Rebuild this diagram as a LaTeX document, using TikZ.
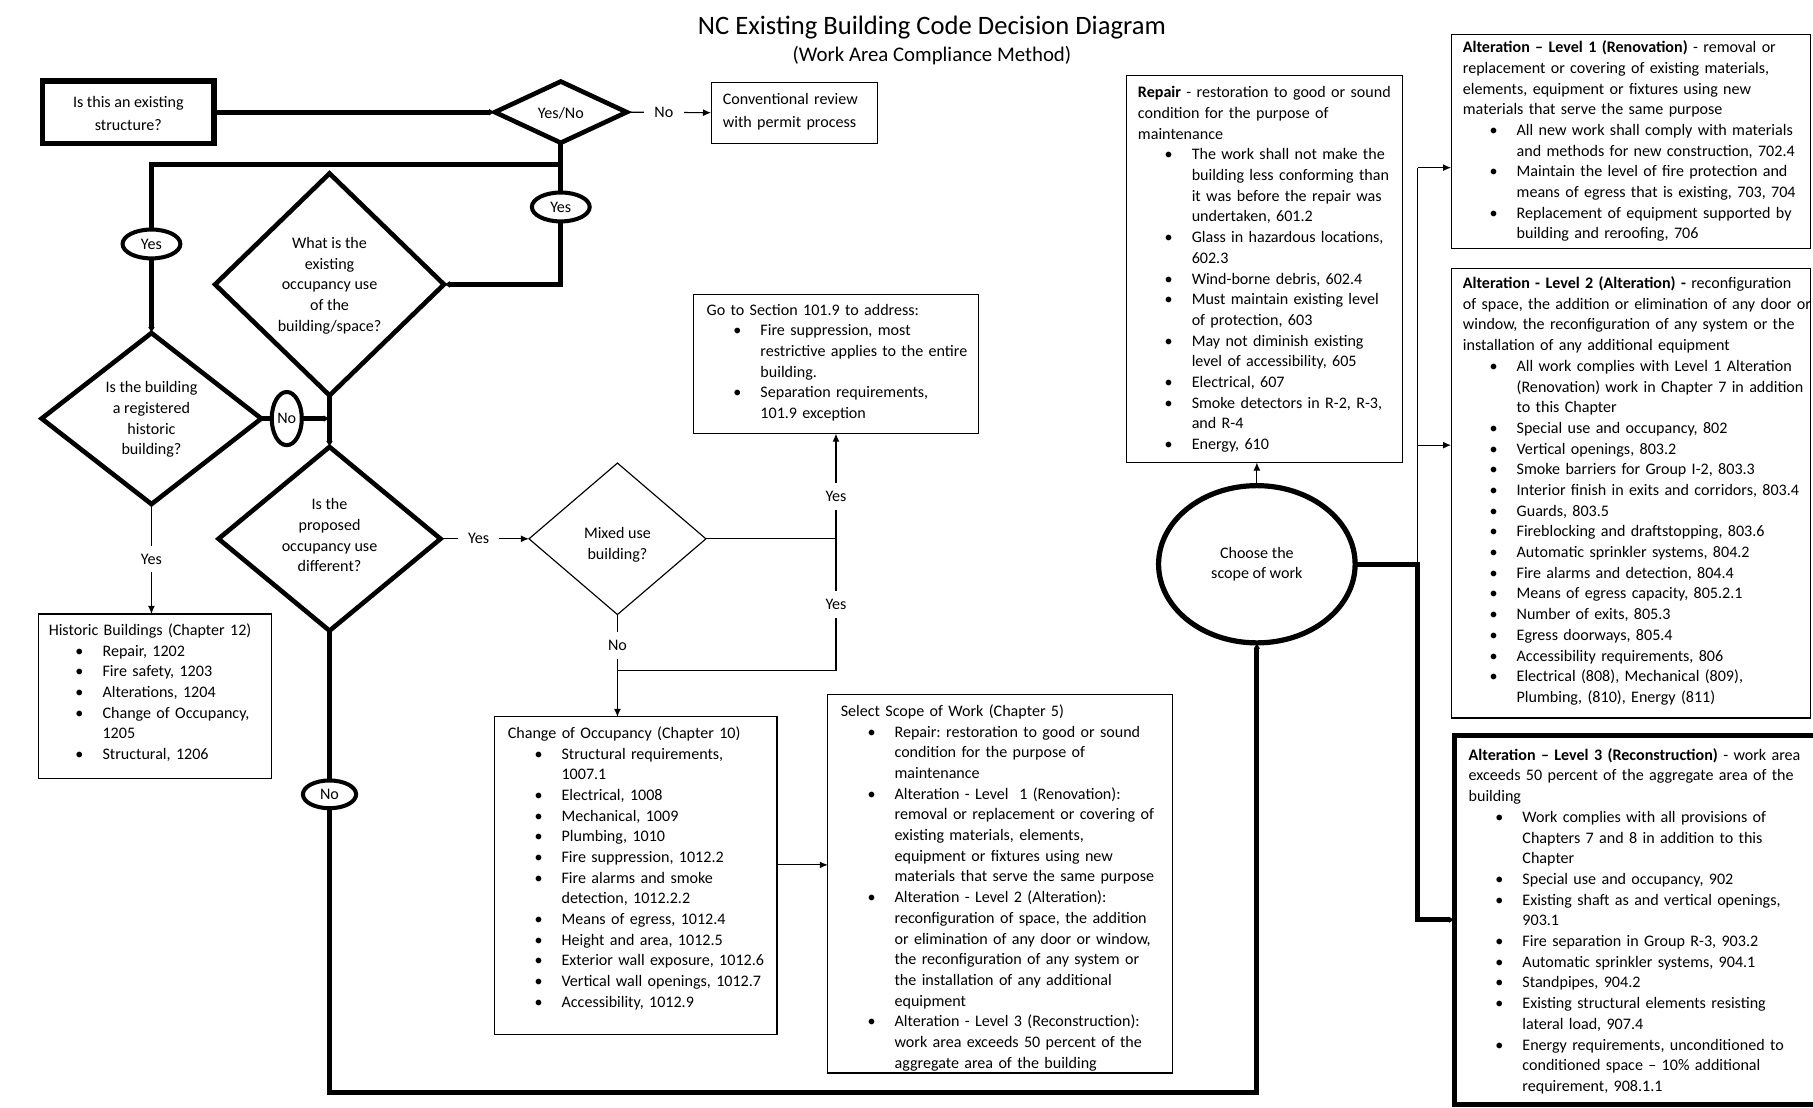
\documentclass[tikz,border=0pt]{standalone}
\usepackage{fontspec}
\setmainfont{Carlito}
\usetikzlibrary{shapes.geometric,arrows.meta}
\frenchspacing
\newcommand\nf{\fontsize{13.9}{17.9}\selectfont\setlength\parskip{0pt}\frenchspacing}
\newenvironment{blist}{\begin{list}{\textbullet}{\setlength{\leftmargin}{46.5pt}\setlength{\labelsep}{16.5pt}\setlength{\labelwidth}{30pt}\setlength{\itemsep}{0pt}\setlength{\parsep}{0pt}\setlength{\topsep}{0pt}\setlength{\partopsep}{0pt}\setlength{\itemindent}{0pt}\setlength{\listparindent}{0pt}\setlength{\rightmargin}{0pt}}}{\end{list}}
\tikzset{
 thk/.style={line width=4.5pt},
 thn/.style={line width=1pt},
 tipk/.style={-{Latex[length=5pt,width=6pt]}},
 tipn/.style={-{Latex[length=7pt,width=6pt]}},
 boxn/.style={draw, line width=1pt, rectangle, inner sep=0pt, outer sep=0pt, anchor=north west},
 tbox/.style={draw, line width=4.5pt, rectangle, inner sep=0pt, outer sep=0pt, anchor=north west},
 dia/.style={draw, diamond, line width=4pt, inner sep=0pt, outer sep=0pt},
 tdia/.style={draw, diamond, line width=1pt, inner sep=0pt, outer sep=0pt},
 txt/.style={inner sep=0pt, anchor=north west, align=left, font=\nf},
 ctxt/.style={inner sep=0pt, align=center, font=\nf},
 lbl/.style={fill=white, inner xsep=9pt, inner ysep=7pt, font=\nf},
 oval/.style={draw, ellipse, line width=3.5pt, fill=white, inner sep=0pt, outer sep=0pt, font=\nf},
}
\begin{document}
\begin{tikzpicture}[x=1pt,y=-1pt]
\fill[white] (0,0) rectangle (1568,958);
\useasboundingbox (0,0) rectangle (1568,958);

\node[font=\fontsize{23}{28}\selectfont] (title) at (806,24) {NC Existing Building Code Decision Diagram};
\node[font=\fontsize{18}{22}\selectfont] (subtitle) at (806,48) {(Work Area Compliance Method)};

% top row
\node[tbox, minimum width=148pt, minimum height=54pt] (exist) at (37,70) {};
\node[ctxt] (existT) at (111,98) {Is this an existing\\[2pt] structure?};
\node[dia, minimum width=114pt, minimum height=53pt] (yn) at (485,97) {};
\node[ctxt] (ynT) at (485,98) {Yes/No};
\node[boxn, minimum width=144pt, minimum height=53pt] (conv) at (615,71) {};
\node[txt, anchor=west, text width=135pt] (convT) at (625,97) {Conventional review\\[2pt] with permit process};

% diamonds
\node[dia, minimum width=198pt, minimum height=192pt] (occ) at (285,246) {};
\node[ctxt] (occT) at (285,247) {What is the\\ existing\\ occupancy use\\ of the\\ building/space?};
\node[dia, minimum width=190pt, minimum height=148pt] (hist) at (131,362) {};
\node[ctxt] (histT) at (131,363) {Is the building\\ a registered\\ historic\\ building?};
\node[dia, minimum width=192pt, minimum height=159pt] (prop) at (285,466) {};
\node[ctxt] (propT) at (285,463) {Is the\\ proposed\\ occupancy use\\ different?};
\node[tdia, minimum width=153pt, minimum height=131pt] (mix) at (534,466) {};
\node[ctxt] (mixT) at (534,471) {Mixed use\\ building?};

% ovals
\node[oval, minimum width=50pt, minimum height=25pt] (yesL) at (131,211) {Yes};
\node[oval, minimum width=50pt, minimum height=25pt] (yesR) at (485,179) {Yes};
\node[oval, minimum width=26pt, minimum height=46pt] (noL) at (248,362) {No};
\node[oval, minimum width=46pt, minimum height=24pt] (noB) at (285,687) {No};
\node[draw, ellipse, line width=4.5pt, inner sep=0pt, outer sep=0pt, minimum width=170pt, minimum height=136pt, align=center, font=\nf] (choose) at (1087,488) {Choose the\\ scope of work};

% boxes
\node[boxn, minimum width=246pt, minimum height=120pt] (go) at (600,255) {};
\node[txt, text width=250pt] (goT) at (611,259.8) {\strut Go to Section 101.9 to address:
\begin{blist}
\item Fire suppression, most\\ restrictive applies to the entire\\ building.
\item Separation requirements,\\ 101.9 exception
\end{blist}};

\node[boxn, minimum width=202pt, minimum height=142pt] (histbox) at (33,531) {};
\node[txt, text width=210pt] (histboxT) at (42,536.8) {\strut Historic Buildings (Chapter 12)
\begin{blist}
\item Repair, 1202
\item Fire safety, 1203
\item Alterations, 1204
\item Change of Occupancy,\\ 1205
\item Structural, 1206
\end{blist}};

\node[boxn, minimum width=244pt, minimum height=275pt] (chg) at (428,620) {};
\node[txt, text width=250pt] (chgT) at (439,625.8) {\strut Change of Occupancy (Chapter 10)
\begin{blist}
\item Structural requirements,\\ 1007.1
\item Electrical, 1008
\item Mechanical, 1009
\item Plumbing, 1010
\item Fire suppression, 1012.2
\item Fire alarms and smoke\\ detection, 1012.2.2
\item Means of egress, 1012.4
\item Height and area, 1012.5
\item Exterior wall exposure, 1012.6
\item Vertical wall openings, 1012.7
\item Accessibility, 1012.9
\end{blist}};

\node[boxn, minimum width=298pt, minimum height=327pt] (sel) at (716,601) {};
\node[txt, text width=310pt] (selT) at (727,606.8) {\strut Select Scope of Work (Chapter 5)
\begin{blist}
\item Repair: restoration to good or sound\\ condition for the purpose of\\ maintenance
\item Alteration - Level\ \ 1 (Renovation):\\ removal or replacement or covering of\\ existing materials, elements,\\ equipment or fixtures using new\\ materials that serve the same purpose
\item Alteration - Level 2 (Alteration):\\ reconfiguration of space, the addition\\ or elimination of any door or window,\\ the reconfiguration of any system or\\ the installation of any additional\\ equipment
\item Alteration - Level 3 (Reconstruction):\\ work area exceeds 50 percent of the\\ aggregate area of the building
\end{blist}};

\node[boxn, minimum width=239pt, minimum height=335pt] (repair) at (974,65) {};
\node[txt, text width=250pt] (repairT) at (984,71.8) {\strut\textbf{Repair} - restoration to good or sound\\ condition for the purpose of\\ maintenance
\begin{blist}
\item The work shall not make the\\ building less conforming than\\ it was before the repair was\\ undertaken, 601.2
\item Glass in hazardous locations,\\ 602.3
\item Wind-borne debris, 602.4
\item Must maintain existing level\\ of protection, 603
\item May not diminish existing\\ level of accessibility, 605
\item Electrical, 607
\item Smoke detectors in R-2, R-3,\\ and R-4
\item Energy, 610
\end{blist}};

\node[boxn, minimum width=311pt, minimum height=185pt] (l1) at (1255,30) {};
\node[txt, text width=330pt] (l1T) at (1265,32.8) {\strut\textbf{Alteration – Level 1 (Renovation)} - removal or\\ replacement or covering of existing materials,\\ elements, equipment or fixtures using new\\ materials that serve the same purpose
\begin{blist}
\item All new work shall comply with materials\\ and methods for new construction, 702.4
\item Maintain the level of fire protection and\\ means of egress that is existing, 703, 704
\item Replacement of equipment supported by\\ building and reroofing, 706
\end{blist}};

\node[boxn, minimum width=311pt, minimum height=389pt] (l2) at (1255,232) {};
\node[txt, text width=330pt] (l2T) at (1265,236.8) {\strut\textbf{Alteration - Level 2 (Alteration) -} reconfiguration\\ of space, the addition or elimination of any door or\\ window, the reconfiguration of any system or the\\ installation of any additional equipment
\begin{blist}
\item All work complies with Level 1 Alteration\\ (Renovation) work in Chapter 7 in addition\\ to this Chapter
\item Special use and occupancy, 802
\item Vertical openings, 803.2
\item Smoke barriers for Group I-2, 803.3
\item Interior finish in exits and corridors, 803.4
\item Guards, 803.5
\item Fireblocking and draftstopping, 803.6
\item Automatic sprinkler systems, 804.2
\item Fire alarms and detection, 804.4
\item Means of egress capacity, 805.2.1
\item Number of exits, 805.3
\item Egress doorways, 805.4
\item Accessibility requirements, 806
\item Electrical (808), Mechanical (809),\\ Plumbing, (810), Energy (811)
\end{blist}};

\node[tbox, line width=4pt, minimum width=320pt, minimum height=319pt] (l3) at (1258,636) {};
\node[txt, text width=330pt] (l3T) at (1270,644.8) {\strut\textbf{Alteration – Level 3 (Reconstruction)} - work area\\ exceeds 50 percent of the aggregate area of the\\ building
\begin{blist}
\item Work complies with all provisions of\\ Chapters 7 and 8 in addition to this\\ Chapter
\item Special use and occupancy, 902
\item Existing shaft as and vertical openings,\\ 903.1
\item Fire separation in Group R-3, 903.2
\item Automatic sprinkler systems, 904.1
\item Standpipes, 904.2
\item Existing structural elements resisting\\ lateral load, 907.4
\item Energy requirements, unconditioned to\\ conditioned space – 10\% additional\\ requirement, 908.1.1
\end{blist}};

% coordinates
\coordinate (J) at (723,466);
\coordinate (K) at (723,580);
\coordinate (L) at (534,580);
\coordinate (B1) at (285,945);
\coordinate (C1) at (1226,488);
\coordinate (T1) at (1226,145);
\coordinate (T2) at (1226,385);

% connectors
\draw[thk,tipk] (exist.east |- yn.west) -- (yn.west);
\draw[thn,tipn] (yn.east) -- node[lbl, pos=0.44]{No} (conv.west);
\draw[thk] (yn.south) -- ++(0,19) -| (yesL.north);
\draw[thk,tipk] (yesL.south) -- (hist.north);
\draw[thk] (yn.south) -- (yesR.north);
\draw[thk,tipk] (yesR.south) |- (occ.east);
\draw[thk] (hist.east) -- (noL.west);
\draw[thk,tipk] (noL.east) -- (noL.east -| prop.north);
\draw[thk,tipk] (occ.south) -- (prop.north);
\draw[thn,tipn] (prop.east) -- node[lbl, pos=0.43]{Yes} (mix.west);
\draw[thn] (mix.east) -- (J);
\draw[thn,tipn] (J) -- node[lbl, pos=0.4]{Yes} (go.south -| J);
\draw[thn] (J) -- node[lbl]{Yes} (K) -- (L);
\draw[thn,tipn] (mix.south) -- node[lbl, pos=0.3]{No} (mix.south |- chg.north);
\draw[thn,tipn] (hist.south) -- node[lbl]{Yes} (hist.south |- histbox.north);
\draw[thk] (prop.south) -- (noB.north);
\draw[thk,tipk] (noB.south) -- (B1) -| (choose.south);
\draw[thn,tipn] ([yshift=9.5pt]chg.east) -- ([yshift=9.5pt]chg.east -| sel.west);
\draw[thn,tipn] (choose.north) -- (choose.north |- repair.south);
\draw[thk,tipk] (choose.east) -- (C1) |- (l3.west);
\draw[thn] (C1) -- (T1);
\draw[thn,tipn] (T1) -- (T1 -| l1.west);
\draw[thn,tipn] (T2) -- (T2 -| l2.west);
\end{tikzpicture}
\end{document}
